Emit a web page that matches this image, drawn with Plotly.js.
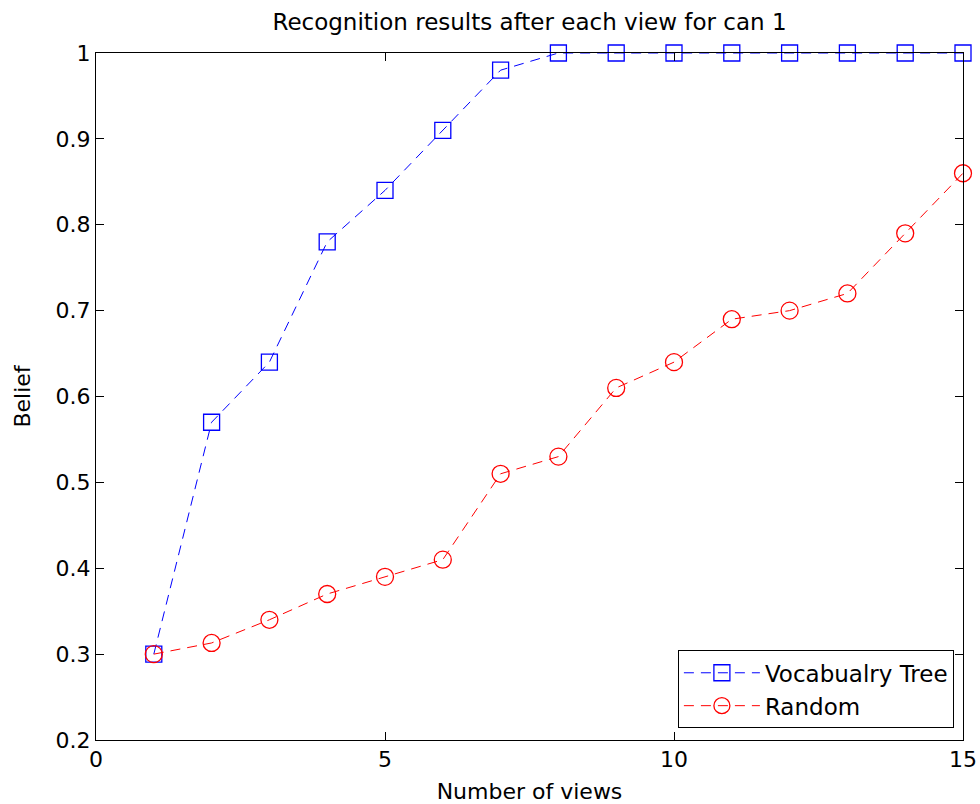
<!DOCTYPE html>
<html>
<head>
<meta charset="utf-8">
<script src="https://cdn.plot.ly/plotly-3.0.1.min.js"></script>
<style>html,body{margin:0;padding:0;background:#fff;}#chart{width:980px;height:804px;}</style>
</head>
<body>
<div id="chart"></div>
<script>
const views = [1,2,3,4,5,6,7,8,9,10,11,12,13,14,15];
const vocabTree = [0.30,0.57,0.64,0.78,0.84,0.91,0.98,1,1,1,1,1,1,1,1];
const randomSel = [0.30,0.313,0.34,0.37,0.39,0.41,0.51,0.53,0.61,0.64,0.69,0.70,0.72,0.79,0.86];
const xTicks = [0,5,10,15];
const yTicks = [0.2,0.3,0.4,0.5,0.6,0.7,0.8,0.9,1];
const yTickText = ['0.2','0.3','0.4','0.5','0.6','0.7','0.8','0.9','1'];

const font = 'DejaVu Sans, Verdana, sans-serif';
const traces = [
  {x: views, y: vocabTree, name: 'Vocabualry Tree', mode: 'lines+markers', type: 'scatter',
   line: {color: '#0000ff', width: 1, dash: '10px,7px'},
   marker: {symbol: 'square-open', size: 16, color: '#0000ff', line: {width: 1.3}}, cliponaxis: false},
  {x: views, y: randomSel, name: 'Random', mode: 'lines+markers', type: 'scatter',
   line: {color: '#ff0000', width: 1, dash: '10px,7px'},
   marker: {symbol: 'circle-open', size: 17, color: '#ff0000', line: {width: 1.3}}, cliponaxis: false}
];
const axisCommon = {showgrid: false, zeroline: false, showline: true, linecolor: '#000', linewidth: 1,
  mirror: 'allticks', ticks: 'inside', ticklen: 8, tickcolor: '#000', tickwidth: 1,
  tickfont: {family: font, size: 22, color: '#000'}};
const layout = {
  width: 980, height: 804,
  margin: {l: 96, r: 17, t: 53, b: 64},
  paper_bgcolor: '#fff', plot_bgcolor: '#fff',
  font: {family: font, color: '#000'},
  title: {text: 'Recognition results after each view for can 1', font: {family: font, size: 23, color: '#000'},
          x: 0.5, xref: 'paper', y: 0.983, yref: 'container', xanchor: 'center'},
  xaxis: Object.assign({}, axisCommon, {range: [0, 15], tickmode: 'array', tickvals: xTicks,
    title: {text: 'Number of views', font: {family: font, size: 22, color: '#000'}, standoff: 12}}),
  yaxis: Object.assign({}, axisCommon, {range: [0.2, 1], tickmode: 'array', tickvals: yTicks, ticktext: yTickText,
    title: {text: 'Belief', font: {family: font, size: 22, color: '#000'}, standoff: 18}}),
  showlegend: true,
  legend: {x: 0.9895, y: 0.017, xanchor: 'right', yanchor: 'bottom', bgcolor: '#fff', bordercolor: '#000', borderwidth: 1,
    font: {family: font, size: 23, color: '#000'}, itemwidth: 76, tracegroupgap: 0}
};
Plotly.newPlot('chart', traces, layout, {displayModeBar: false, staticPlot: true});
</script>
</body>
</html>
